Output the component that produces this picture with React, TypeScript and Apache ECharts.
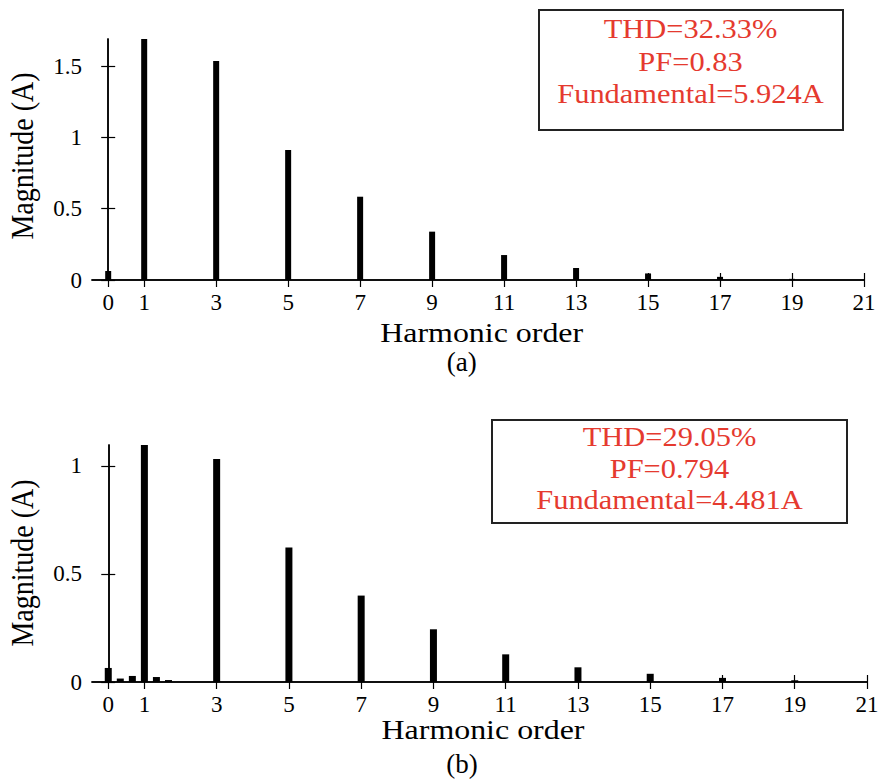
import React, { useEffect, useRef } from "react";
import * as echarts from "echarts";

// Harmonic spectrum (a)
const ordersA = [0, 1, 3, 5, 7, 9, 11, 13, 15, 17, 19];
const magA = [0.063, 5.924, 1.535, 0.911, 0.584, 0.339, 0.175, 0.084, 0.046, 0.022, 0.008];

// Harmonic spectrum (b), including inter-harmonic bins
const ordersB = [0, 0.333, 0.667, 1, 1.333, 1.667, 3, 5, 7, 9, 11, 13, 15, 17, 19];
const magB = [0.065, 0.016, 0.028, 4.481, 0.023, 0.009, 1.032, 0.623, 0.4, 0.244, 0.128, 0.068, 0.038, 0.019, 0.008];

const xTicks = [0, 1, 3, 5, 7, 9, 11, 13, 15, 17, 19, 21];
const yTicksA = [0, 0.5, 1, 1.5];
const yTicksB = [0, 0.5, 1];

const infoA = ["THD=32.33%", "PF=0.83", "Fundamental=5.924A"];
const infoB = ["THD=29.05%", "PF=0.794", "Fundamental=4.481A"];

const FONT = "'Liberation Serif', 'Times New Roman', serif";
const RED = "#e53a2f";

export default function App() {
  const ref = useRef<HTMLDivElement>(null);

  useEffect(() => {
    if (!ref.current) return;
    const chart = echarts.init(ref.current, null, { renderer: "svg" });

    const axisLine = { show: true, lineStyle: { color: "#000", width: 1.5 } };

    const xAxisFor = (gi: number, pos: "bottom" | "top") => ({
      type: "value",
      gridIndex: gi,
      position: pos,
      min: -0.45,
      max: 21,
      axisLine,
      axisTick: {
        show: true,
        inside: true,
        length: 7,
        customValues: xTicks,
        lineStyle: { color: "#000", width: 1.2 },
      },
      axisLabel: {
        show: pos === "bottom",
        customValues: xTicks,
        fontFamily: FONT,
        fontSize: 23,
        color: "#000",
        margin: 11,
      },
      splitLine: { show: false },
    });

    const yAxisFor = (gi: number, pos: "left" | "right", max: number, ticks: number[]) => ({
      type: "value",
      gridIndex: gi,
      position: pos,
      min: 0,
      max,
      axisLine,
      axisTick: {
        show: true,
        inside: true,
        length: 7,
        customValues: ticks,
        lineStyle: { color: "#000", width: 1.2 },
      },
      axisLabel: {
        show: pos === "left",
        customValues: ticks,
        fontFamily: FONT,
        fontSize: 23,
        color: "#000",
        margin: 10,
        formatter: (v: number) => String(v),
      },
      splitLine: { show: false },
    });

    const textLines = (lines: string[], cx: number, mids: number[]) =>
      lines.map((t, i) => ({
        type: "text",
        x: cx,
        y: mids[i],
        scaleX: 1.14,
        z: 101,
        style: {
          text: t,
          fill: RED,
          font: `26.7px ${FONT}`,
          align: "center",
          verticalAlign: "middle",
        },
      }));

    const option: any = {
      animation: false,
      backgroundColor: "#fff",
      grid: [
        { left: 92, top: 39, width: 772, height: 241, outerBoundsMode: "none" },
        { left: 92, top: 445, width: 775, height: 237, outerBoundsMode: "none" },
      ],
      xAxis: [xAxisFor(0, "bottom"), xAxisFor(0, "top"), xAxisFor(1, "bottom"), xAxisFor(1, "top")],
      yAxis: [
        yAxisFor(0, "left", 1.69, yTicksA),
        yAxisFor(0, "right", 1.69, yTicksA),
        yAxisFor(1, "left", 1.097, yTicksB),
        yAxisFor(1, "right", 1.097, yTicksB),
      ],
      series: [
        {
          type: "bar",
          xAxisIndex: 0,
          yAxisIndex: 0,
          data: ordersA.map((h, i) => [h, magA[i]]),
          barWidth: 6,
          clip: true,
          itemStyle: { color: "#000" },
        },
        {
          type: "bar",
          xAxisIndex: 2,
          yAxisIndex: 2,
          data: ordersB.map((h, i) => [h, magB[i]]),
          barWidth: 7,
          clip: true,
          itemStyle: { color: "#000" },
        },
      ],
      graphic: [
        {
          type: "rect",
          z: 100,
          shape: { x: 539, y: 10, width: 304, height: 120 },
          style: { fill: "#fff", stroke: "#222", lineWidth: 2 },
        },
        {
          type: "rect",
          z: 100,
          shape: { x: 492, y: 420, width: 355, height: 103 },
          style: { fill: "#fff", stroke: "#222", lineWidth: 2 },
        },
        ...textLines(infoA, 690.5, [28.5, 61.2, 93.5]),
        ...textLines(infoB, 669.5, [437, 468.6, 499.3]),
        {
          type: "text",
          x: 21.5,
          y: 156,
          rotation: Math.PI / 2,
          scaleY: 1.14,
          style: { text: "Magnitude (A)", fill: "#000", font: `28px ${FONT}`, align: "center", verticalAlign: "middle" },
        },
        {
          type: "text",
          x: 21.5,
          y: 563,
          rotation: Math.PI / 2,
          scaleY: 1.14,
          style: { text: "Magnitude (A)", fill: "#000", font: `28px ${FONT}`, align: "center", verticalAlign: "middle" },
        },
        {
          type: "text",
          x: 481.7,
          y: 332.2,
          scaleX: 1.14,
          style: { text: "Harmonic order", fill: "#000", font: `28px ${FONT}`, align: "center", verticalAlign: "middle" },
        },
        {
          type: "text",
          x: 483,
          y: 728.8,
          scaleX: 1.14,
          style: { text: "Harmonic order", fill: "#000", font: `28px ${FONT}`, align: "center", verticalAlign: "middle" },
        },
        {
          type: "text",
          x: 461.7,
          y: 362,
          style: { text: "(a)", fill: "#000", font: `27px ${FONT}`, align: "center", verticalAlign: "middle" },
        },
        {
          type: "text",
          x: 462,
          y: 764,
          style: { text: "(b)", fill: "#000", font: `27px ${FONT}`, align: "center", verticalAlign: "middle" },
        },
      ],
    };

    chart.setOption(option);
    return () => chart.dispose();
  }, []);

  return (
    <div
      ref={ref}
      style={{ position: "absolute", left: 0, top: 0, width: 882, height: 781, background: "#fff" }}
    />
  );
}
